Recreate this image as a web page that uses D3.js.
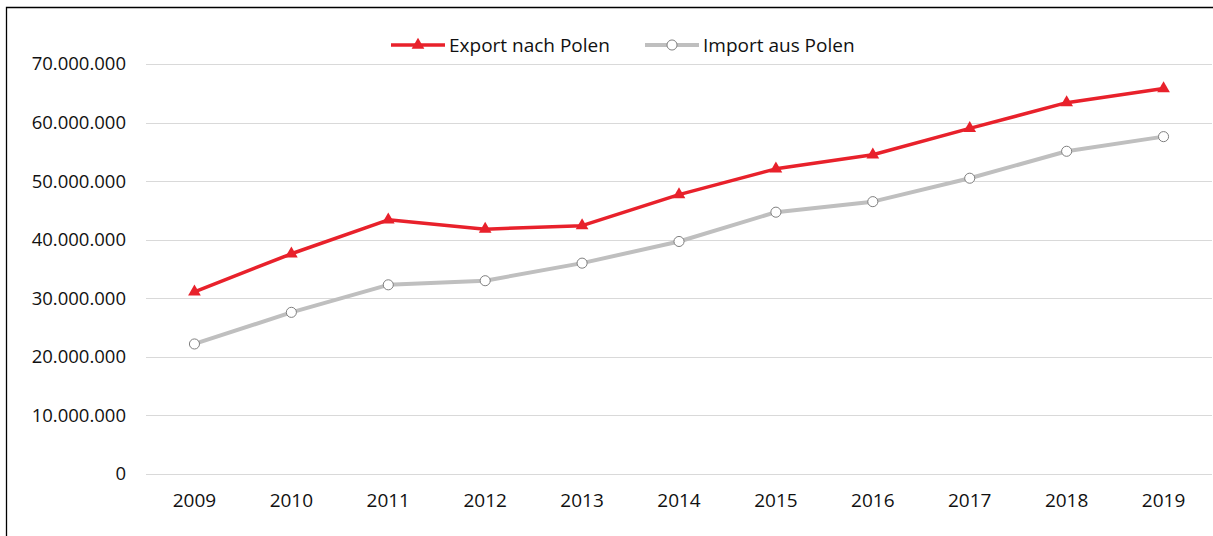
<!DOCTYPE html>
<html>
<head>
<meta charset="utf-8">
<script src="https://cdn.jsdelivr.net/npm/d3@7"></script>
<style>
  body { margin: 0; background: #fff; }
  text { font-family: "Open Sans", "Noto Sans", sans-serif; fill: #111; }
</style>
</head>
<body>
<svg id="chart" width="1213" height="536"></svg>
<script>
// data
const years = ['2009', '2010', '2011', '2012', '2013', '2014', '2015', '2016', '2017', '2018', '2019'];
const exportValues = [31100000, 37600000, 43400000, 41800000, 42400000, 47700000, 52100000, 54500000, 59000000, 63400000, 65800000];
const importValues = [22200000, 27600000, 32300000, 33000000, 36000000, 39700000, 44700000, 46500000, 50500000, 55100000, 57600000];
const yTicks = [0, 10000000, 20000000, 30000000, 40000000, 50000000, 60000000, 70000000];

const series = [
    { name: 'Export nach Polen', values: exportValues, color: '#e8212b', width: 3.5, marker: 'triangle' },
    { name: 'Import aus Polen', values: importValues, color: '#bfbfbf', width: 4, marker: 'circle' },
];

const svg = d3.select('#chart');
const margin = { left: 146, right: 1, top: 64, bottom: 474 };

const x = d3.scaleBand().domain(years).range([margin.left, 1213 - margin.right]);
const y = d3.scaleLinear().domain([0, 70000000]).range([margin.bottom, margin.top]);

const fmt = v => d3.format(',')(v).replace(/,/g, '.');

// frame (only left + top visible in the picture)
svg.append('path')
    .attr('d', 'M6.5,536 V7.5 H1213')
    .attr('fill', 'none')
    .attr('stroke', '#000')
    .attr('stroke-width', 1.3);

// grid
svg.append('g').selectAll('line')
    .data(yTicks).enter()
    .append('line')
    .attr('x1', x.range()[0]).attr('x2', x.range()[1])
    .attr('y1', d => Math.round(y(d)) + 0.5).attr('y2', d => Math.round(y(d)) + 0.5)
    .attr('stroke', '#d9d9d9')
    .attr('stroke-width', 1);

// y labels
svg.append('g').selectAll('text')
    .data(yTicks).enter()
    .append('text')
    .attr('x', 126)
    .attr('y', d => y(d))
    .attr('dy', '0.35em')
    .attr('text-anchor', 'end')
    .style('font-size', '18.5px')
    .text(d => fmt(d));

// x labels
svg.append('g').selectAll('text')
    .data(years).enter()
    .append('text')
    .attr('x', d => x(d) + x.bandwidth() / 2)
    .attr('y', 500)
    .attr('dy', '0.35em')
    .attr('text-anchor', 'middle')
    .style('font-size', '19px')
    .text(d => d);

const cx = d => x(d) + x.bandwidth() / 2;
const line = d3.line().x((d, i) => cx(years[i])).y(d => y(d));

// import drawn first so export sits above it
[series[1], series[0]].forEach(s => {
    svg.append('path')
        .datum(s.values)
        .attr('d', line)
        .attr('fill', 'none')
        .attr('stroke', s.color)
        .attr('stroke-width', s.width)
        .attr('stroke-linejoin', 'round');

    const pts = svg.append('g').selectAll('path')
        .data(s.values).enter()
        .append('path')
        .attr('transform', (d, i) => `translate(${cx(years[i])},${y(d)})`);
    if (s.marker === 'triangle') {
        pts.attr('d', d3.symbol(d3.symbolTriangle, 70)).attr('fill', s.color);
    } else {
        pts.attr('d', d3.symbol(d3.symbolCircle, 80))
            .attr('fill', '#fff')
            .attr('stroke', '#7f7f7f')
            .attr('stroke-width', 1);
    }
});

// legend
const legend = svg.append('g');
const legendX = [391, 645];
series.forEach((s, i) => {
    const g = legend.append('g').attr('transform', `translate(${legendX[i]},45)`);
    g.append('line').attr('x1', 0).attr('x2', 54).attr('y1', 0).attr('y2', 0)
        .attr('stroke', s.color).attr('stroke-width', s.width);
    if (s.marker === 'triangle') {
        g.append('path').attr('d', d3.symbol(d3.symbolTriangle, 70))
            .attr('transform', 'translate(27,0)').attr('fill', s.color);
    } else {
        g.append('path').attr('d', d3.symbol(d3.symbolCircle, 80))
            .attr('transform', 'translate(27,0)')
            .attr('fill', '#fff').attr('stroke', '#7f7f7f').attr('stroke-width', 1);
    }
    g.append('text').attr('x', 58).attr('y', 0).attr('dy', '0.35em')
        .style('font-size', '19px')
        .text(s.name);
});
</script>
</body>
</html>
